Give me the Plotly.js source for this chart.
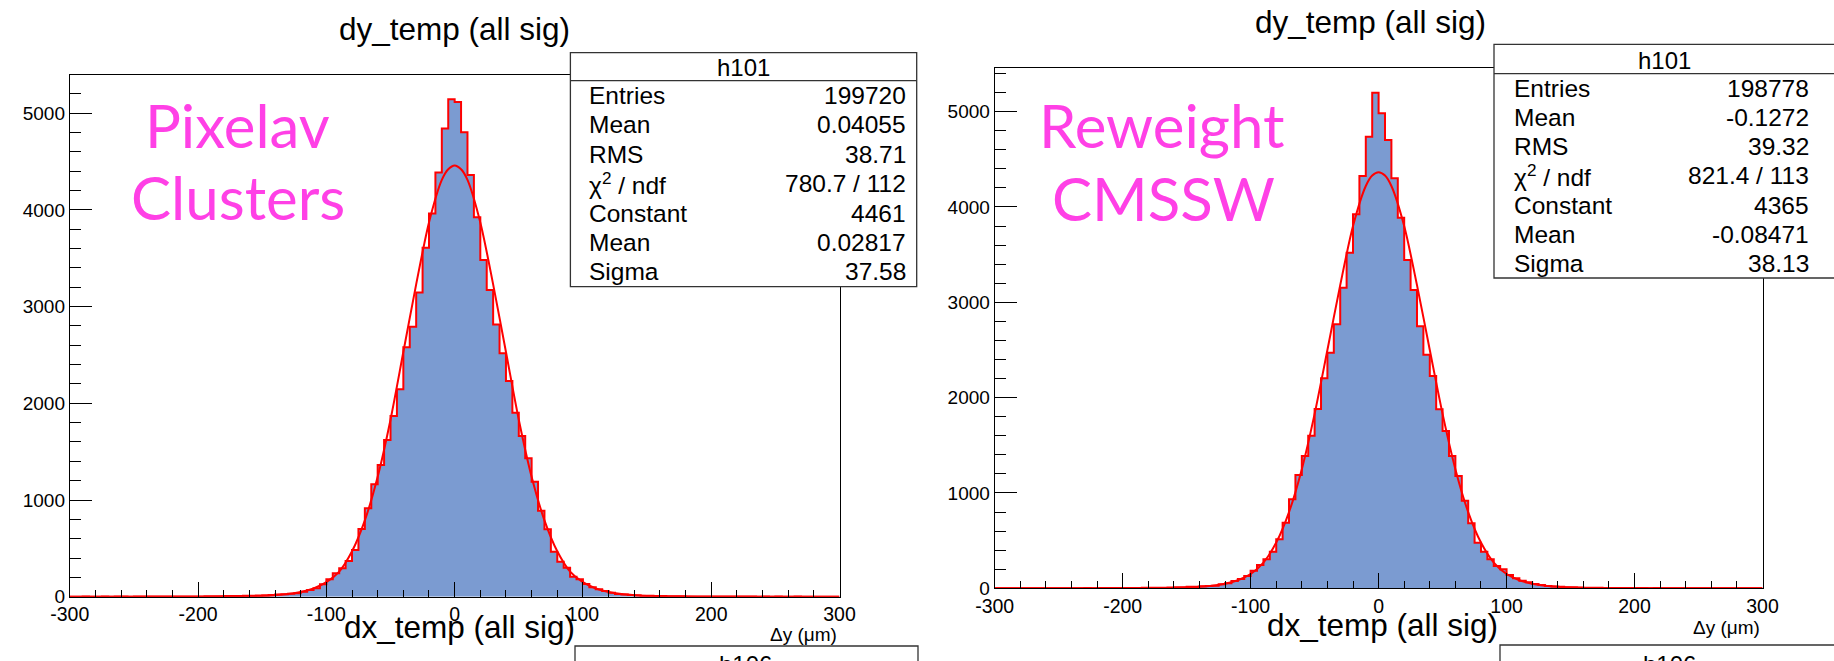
<!DOCTYPE html>
<html><head><meta charset="utf-8">
<script src="https://cdn.plot.ly/plotly-3.0.1.min.js"></script>
<style>html,body{margin:0;padding:0;background:#fff;overflow:hidden}#chart{width:1834px;height:661px}</style>
</head><body><div id="chart"></div>
<script>
// ---- data ----
const binStart = -300;
const binWidth = 5;
const leftCounts = [
  0,0,1,0,0,1,0,1,1,0,
  1,1,1,2,1,2,2,3,2,3,
  3,4,4,5,6,7,8,9,11,13,
  15,18,22,26,30,36,52,69,87,128,
  180,242,293,369,483,700,914,1162,1362,1620,
  1869,2144,2579,2792,3147,3609,3964,4388,4843,5143,
  5116,4802,4360,3923,3481,3171,2816,2517,2230,1903,
  1662,1431,1189,889,697,465,362,300,207,180,
  131,97,76,59,41,28,22,17,14,11,
  9,7,6,5,4,4,3,3,2,2,
  2,1,2,1,1,1,1,0,1,0,
  1,0,0,1,0,0,0,0,0,0
];
const rightCounts = [
  0,1,0,0,1,0,0,1,0,1,
  1,0,1,1,2,1,2,2,2,3,
  3,3,4,5,5,6,7,9,10,12,
  15,17,21,24,28,42,52,77,98,129,
  185,244,304,384,514,688,934,1189,1388,1601,
  1881,2203,2470,2769,3153,3520,3923,4325,4737,5199,
  4983,4703,4301,3888,3444,3129,2750,2450,2227,1878,
  1650,1388,1178,919,682,478,384,304,234,199,
  140,105,80,63,45,35,25,19,15,12,
  10,8,7,6,5,4,4,3,3,2,
  2,2,1,2,1,1,1,1,0,1,
  1,0,0,1,0,0,1,0,0,0
];
const fitX = [-300,-250,-200,-175,-150,-140,-130,-120,-110,-100,-90,-80,-70,-60,-50,-40,-30,-20,-10,-5,0,5,10,20,30,40,50,60,70,80,90,100,110,120,130,140,150,175,200,250,300];
const leftFitY = [0,0,0,1,8,15,27,48,85,150,260,470,790,1240,1830,2530,3230,3870,4310,4420,4460,4420,4310,3870,3230,2530,1830,1240,790,470,260,150,85,48,27,15,8,1,0,0,0];
const rightFitY = [0,0,0,1,8,15,27,48,85,150,270,480,800,1250,1830,2500,3180,3800,4220,4330,4365,4330,4220,3800,3180,2500,1830,1250,800,480,270,150,85,48,27,15,8,1,0,0,0];
const xTickVals = [-300,-200,-100,0,100,200,300];
const xTickText = ['-300','-200','-100','0','100','200','300'];
const statLabels = ['Entries','Mean','RMS','\u03c7<sup>2</sup> / ndf','Constant','Mean','Sigma'];
const leftStatValues = ['199720','0.04055','38.71','780.7 / 112','4461','0.02817','37.58'];
const rightStatValues = ['198778','-0.1272','39.32','821.4 / 113','4365','-0.08471','38.13'];
const histName = 'h101';
const nextHistName = 'h106';
const topTitle = 'dy_temp (all sig)';
const bottomTitle = 'dx_temp (all sig)';
const xLabel = '\u0394y (\u03bcm)';
const leftTag = ['Pixelav','Clusters'];
const rightTag = ['Reweight','CMSSW'];

// ---- helpers ----
const W = 1834, H = 661;
const px = x => x / W, py = y => 1 - y / H;
const FONT = 'Liberation Sans, Arial, Helvetica, sans-serif';
const RED = '#ff0000', FILL = '#7b9bd1', MAG = '#ff40e6';

function step(counts) {
  const xs = [], ys = [];
  counts.forEach((c, i) => { xs.push(binStart + i * binWidth); ys.push(c); });
  xs.push(binStart + counts.length * binWidth); ys.push(counts[counts.length - 1]);
  return {xs, ys};
}
const L = step(leftCounts), R = step(rightCounts);

const data = [
  {type:'scatter', mode:'lines', x:L.xs, y:L.ys, xaxis:'x', yaxis:'y', line:{shape:'hv', color:RED, width:2}, fill:'tozeroy', fillcolor:FILL, hoverinfo:'skip'},
  {type:'scatter', mode:'lines', x:fitX, y:leftFitY, xaxis:'x', yaxis:'y', line:{shape:'spline', smoothing:0.8, color:RED, width:2}, hoverinfo:'skip'},
  {type:'scatter', mode:'lines', x:R.xs, y:R.ys, xaxis:'x2', yaxis:'y2', line:{shape:'hv', color:RED, width:2}, fill:'tozeroy', fillcolor:FILL, hoverinfo:'skip'},
  {type:'scatter', mode:'lines', x:fitX, y:rightFitY, xaxis:'x2', yaxis:'y2', line:{shape:'spline', smoothing:0.8, color:RED, width:2}, hoverinfo:'skip'}
];

function xAx(domain, anchor) {
  return {domain, anchor, range:[-300,300], tickmode:'array', tickvals:xTickVals, ticktext:xTickText,
    ticks:'inside', ticklen:15, tickwidth:1, tickcolor:'#000',
    showline:true, mirror:true, linecolor:'#000', linewidth:1,
    showgrid:false, zeroline:false, fixedrange:true,
    tickfont:{family:FONT, size:19.5, color:'#000'},
    minor:{tickmode:'linear', dtick:20, tick0:0, ticks:'inside', ticklen:7, tickwidth:1, tickcolor:'#000', showgrid:false}};
}
function yAx(domain, anchor, top) {
  return {domain, anchor, range:[0, top], tickmode:'linear', tick0:0, dtick:1000,
    ticks:'inside', ticklen:22, tickwidth:1, tickcolor:'#000',
    showline:true, mirror:true, linecolor:'#000', linewidth:1,
    showgrid:false, zeroline:false, fixedrange:true,
    tickfont:{family:FONT, size:19, color:'#000'},
    minor:{tickmode:'linear', dtick:200, tick0:0, ticks:'inside', ticklen:11, tickwidth:1, tickcolor:'#000', showgrid:false}};
}

const shapes = [], annotations = [];
function ann(text, x, y, size, opts) {
  annotations.push(Object.assign({text, x:px(x), y:py(y), xref:'paper', yref:'paper', showarrow:false,
    xanchor:'center', yanchor:'middle', font:{family:FONT, size, color:'#000'}}, opts || {}));
}
function statsBox(x0, x1, y0, ySep, y1, labelX, valueX, values) {
  shapes.push({type:'rect', xref:'paper', yref:'paper', x0:px(x0), x1:px(x1), y0:py(y0), y1:py(y1), fillcolor:'#fff', line:{color:'#333', width:1.3}, layer:'above'});
  shapes.push({type:'line', xref:'paper', yref:'paper', x0:px(x0), x1:px(x1), y0:py(ySep), y1:py(ySep), line:{color:'#333', width:1.3}, layer:'above'});
  ann(histName, (x0 + Math.min(x1, W)) / 2, (y0 + ySep) / 2 + 1, 24);
  const rowH = (y1 - ySep) / statLabels.length;
  statLabels.forEach((lab, i) => {
    const yc = ySep + (i + 0.5) * rowH;
    ann(lab, labelX, yc, 24.5, {xanchor:'left'});
    ann(values[i], valueX, yc, 24.5, {xanchor:'right'});
  });
}

// left panel
statsBox(570.4, 916.7, 52.6, 80.7, 286.6, 587, 908, leftStatValues);
// right panel
statsBox(1494, 1845, 44.4, 73.7, 278, 1512, 1811, rightStatValues);

// partial next boxes at the bottom
shapes.push({type:'rect', xref:'paper', yref:'paper', x0:px(575), x1:px(918), y0:py(646), y1:py(700), fillcolor:'#fff', line:{color:'#333', width:1.3}, layer:'above'});
shapes.push({type:'rect', xref:'paper', yref:'paper', x0:px(1500), x1:px(1845), y0:py(645), y1:py(700), fillcolor:'#fff', line:{color:'#333', width:1.3}, layer:'above'});
ann(nextHistName, 745, 664, 24);
ann(nextHistName, 1669, 664, 24);

// titles
ann(topTitle, 454, 29, 31.5);
ann(topTitle, 1370, 22, 31.5);
ann(bottomTitle, 459, 627, 31.5);
ann(bottomTitle, 1382, 625, 31.5);
ann(xLabel, 839, 634, 19, {xanchor:'right'});
ann(xLabel, 1762, 627, 19, {xanchor:'right'});

// magenta tags
const tagFont = {family:'Lato, sans-serif', size:60, color:MAG};
ann(leftTag[0], 237, 125, 60, {font:tagFont});
ann(leftTag[1], 238, 197, 60, {font:tagFont});
ann(rightTag[0], 1162, 125, 60, {font:tagFont});
ann(rightTag[1], 1163, 198, 60, {font:tagFont});

const layout = {
  width:W, height:H, margin:{l:0, r:0, t:0, b:0}, showlegend:false,
  paper_bgcolor:'#fff', plot_bgcolor:'rgba(0,0,0,0)',
  font:{family:FONT, color:'#000'},
  xaxis: xAx([px(69.8), px(839.5)], 'y'),
  yaxis: yAx([py(596.7), py(75)], 'x', 5395),
  xaxis2: xAx([px(994.7), px(1762.5)], 'y2'),
  yaxis2: yAx([py(588.3), py(67.8)], 'x2', 5460),
  shapes, annotations
};
Plotly.newPlot('chart', data, layout, {displayModeBar:false, staticPlot:true});
</script>
</body></html>
